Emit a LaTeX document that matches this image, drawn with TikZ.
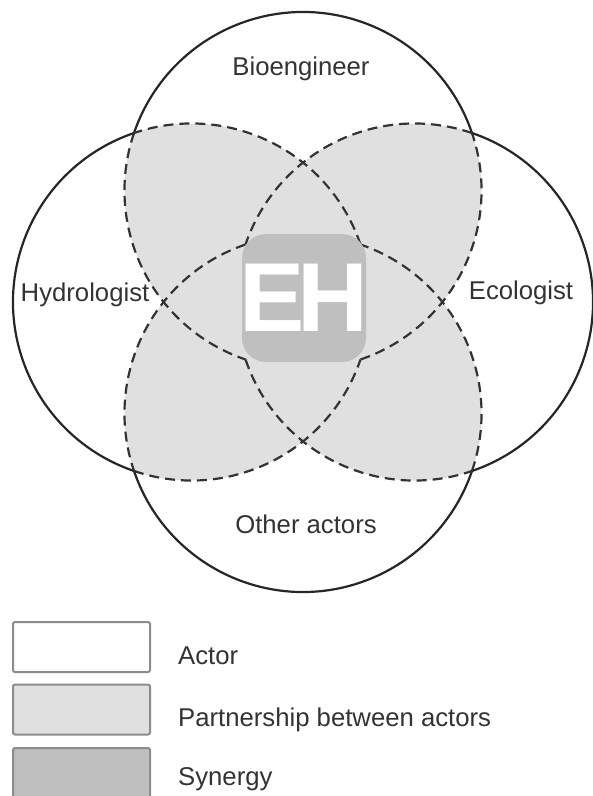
\documentclass[tikz,border=0pt]{standalone}
\usepackage{fontspec}
\setmainfont{Liberation Sans}
\definecolor{partnergray}{gray}{0.88}
\definecolor{synergygray}{gray}{0.75}
\definecolor{rimgray}{gray}{0.55}
\tikzset{
  actor/.style={line width=2.2pt, draw=black!85},
  partnerline/.style={line width=2.2pt, draw=black!80, dash pattern=on 10pt off 6pt},
  partner/.style={fill=partnergray},
  actorname/.style={font=\fontsize{25.7}{30}\selectfont, text=black!80, inner sep=0pt},
  keybox/.style={draw=rimgray, line width=2pt, rounded corners=2pt,
    minimum width=137pt, minimum height=50pt, inner sep=0pt},
  synergy/.style={fill=synergygray, rounded corners=24pt, minimum width=124pt,
    minimum height=128pt, inner sep=0pt},
}
\newcommand{\rad}{178.5}
\newcommand{\off}{111.5}

\begin{document}
\begin{tikzpicture}[x=1pt, y=1pt]
  \useasboundingbox (0,0) rectangle (593,-796);
  \coordinate (C) at (303,-302);
  \foreach \a/\n in {90/T,180/L,270/B,0/R}
    \path (C) ++(\a:\off) coordinate (\n);

  % partnerships: one lens for each pair of neighbours
  \foreach \p/\q in {T/L,T/R,B/L,B/R}
  {\begin{scope}
      \clip (\p) circle[radius=\rad];
      \fill[partner] (\q) circle[radius=\rad];
    \end{scope}
  }

  % inner arcs dashed, outer arcs solid
  \foreach \a in {90,180,270,0}
  {
    \draw[partnerline] (C) ++(\a:\off) ++(\a+71.2:\rad)
      arc[start angle=\a+71.2, end angle=\a+161.2, radius=\rad];
    \draw[partnerline] (C) ++(\a:\off) ++(\a+198.8:\rad)
      arc[start angle=\a+198.8, end angle=\a+288.8, radius=\rad];
    \draw[actor] (C) ++(\a:\off) ++(\a-71.2:\rad)
      arc[start angle=\a-71.2, end angle=\a+71.2, radius=\rad];
  }

  \node[synergy] (EH) at (304,-298) {};
  \node[text=white, inner sep=0pt, font=\bfseries\fontsize{98}{98}\selectfont]
    (EHtext) at (EH.center) {E\kern-7pt H};

  \node[actorname] (bio) at (301,-69) {Bioengineer};
  \node[actorname] (hydro) at (85,-295) {Hydrologist};
  \node[actorname] (eco) at (521,-293) {Ecologist};
  \node[actorname] (other) at (306,-524) {Other actors};

  % legend
  \foreach \y/\f/\b/\t/\n in {647/white/664/Actor/actor,
      709.5/partnergray/726/Partnership between actors/partner,
      773/synergygray/785/Synergy/synergy}
  {
    \node[keybox, fill=\f] (\n key) at (81.5,-\y) {};
    \node[actorname, anchor=base west] (\n text) at (178,-\b) {\t};
  }
\end{tikzpicture}
\end{document}
